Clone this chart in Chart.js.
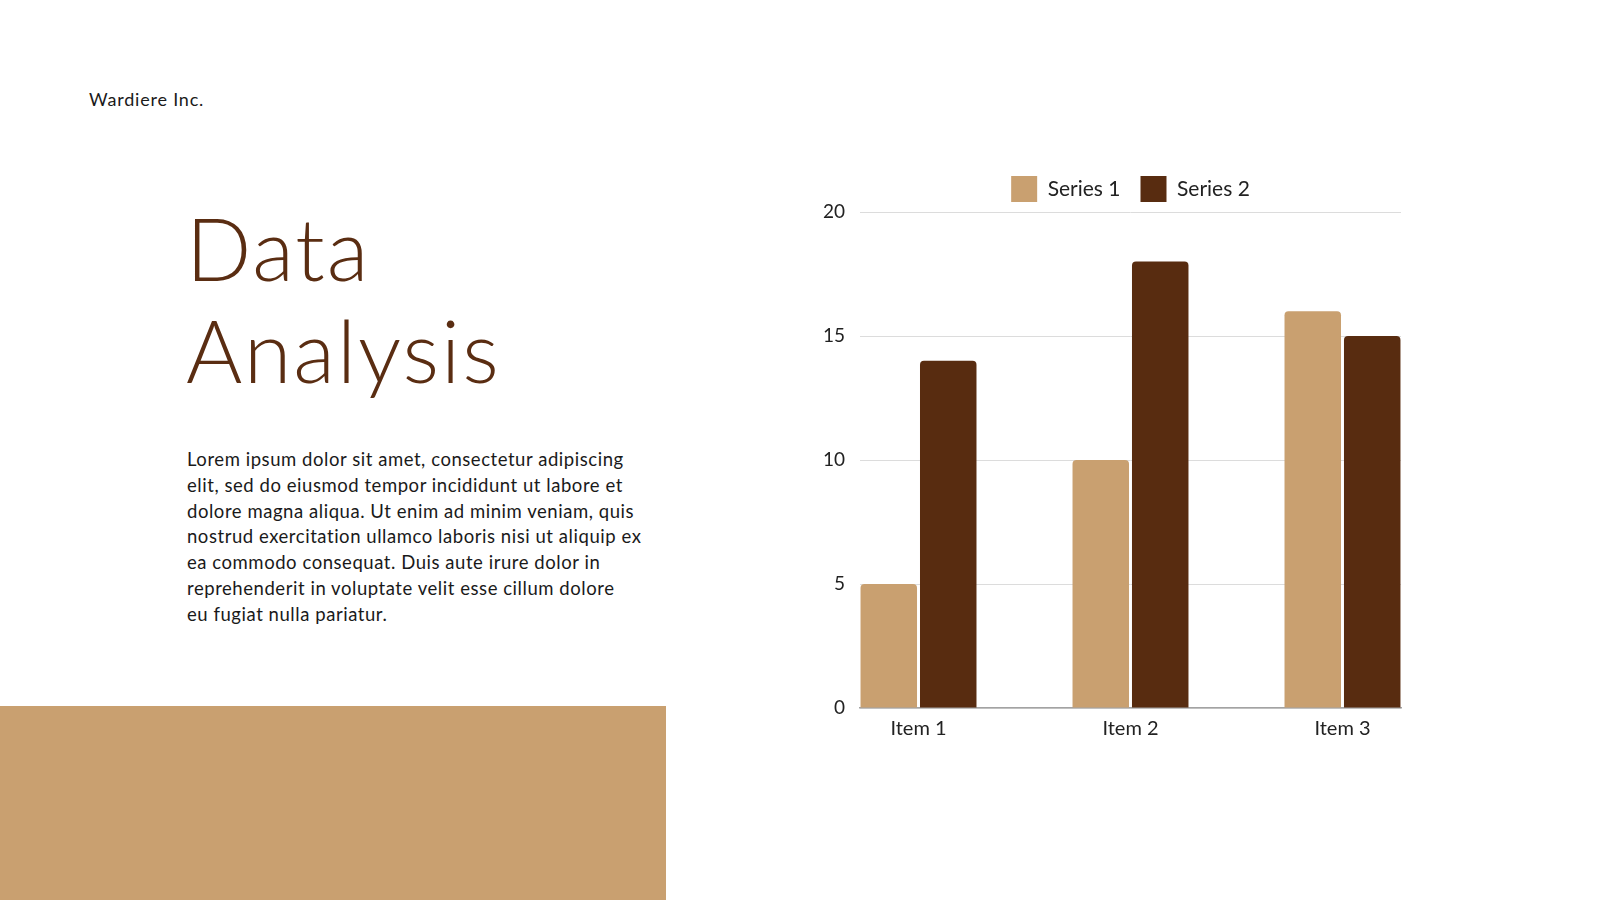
<!DOCTYPE html>
<html>
<head>
<meta charset="utf-8">
<title>Data Analysis</title>
<script src="https://cdn.jsdelivr.net/npm/chart.js@4.4.1/dist/chart.umd.min.js"></script>
<style>
  html, body { margin: 0; padding: 0; }
  body { width: 1600px; height: 900px; background: #ffffff; position: relative; overflow: hidden; font-family: Lato, "Noto Sans", sans-serif; }
  .brand { position: absolute; left: 89px; top: 88px; font-size: 18px; line-height: 22px; color: #1a1a1a; letter-spacing: 0.8px; }
  .title { position: absolute; left: 186px; top: 197px; font-size: 86px; line-height: 102px; font-weight: 300; color: #5a2d12; letter-spacing: 2px; }
  .body-text { position: absolute; left: 187px; top: 447px; font-size: 18.5px; line-height: 25.8px; color: #1a1a1a; white-space: nowrap; letter-spacing: 0.55px; }
  .block { position: absolute; left: 0; top: 706px; width: 666px; height: 194px; background: #c9a070; }
  #chartBox { position: absolute; left: 800px; top: 156px; width: 661px; height: 597px; }
</style>
</head>
<body>
<div class="brand">Wardiere Inc.</div>
<div class="title">Data<br>Analysis</div>
<div class="body-text">Lorem ipsum dolor sit amet, consectetur adipiscing<br>elit, sed do eiusmod tempor incididunt ut labore et<br>dolore magna aliqua. Ut enim ad minim veniam, quis<br>nostrud exercitation ullamco laboris nisi ut aliquip ex<br>ea commodo consequat. Duis aute irure dolor in<br>reprehenderit in voluptate velit esse cillum dolore<br>eu fugiat nulla pariatur.</div>
<div class="block"></div>
<div id="chartBox"><canvas id="itemChart"></canvas></div>

<script>
// chart values
const categories = ["Item 1", "Item 2", "Item 3"];
const series1 = [5, 10, 16];
const series2 = [14, 18, 15];
const yTicks = [0, 5, 10, 15, 20];

const lightTan = "#c9a070";
const darkBrown = "#582c10";

// bars sit on numeric x positions so the groups can hug the ends of the grid
function toPoints(values) {
    return values.map((v, i) => ({x: i, y: v}));
}

new Chart("itemChart", {
    type: "bar",
    data: {
        datasets: [{
            label: "Series 1",
            data: toPoints(series1),
            backgroundColor: lightTan,
            borderRadius: {topLeft: 4, topRight: 4},
            borderSkipped: "bottom",
            categoryPercentage: 0.561,
            barPercentage: 0.95
        }, {
            label: "Series 2",
            data: toPoints(series2),
            backgroundColor: darkBrown,
            borderRadius: {topLeft: 4, topRight: 4},
            borderSkipped: "bottom",
            categoryPercentage: 0.561,
            barPercentage: 0.95
        }]
    },
    options: {
        responsive: true,
        maintainAspectRatio: false,
        animation: false,
        layout: {padding: 0},
        plugins: {
            legend: {
                display: true,
                position: "top",
                labels: {
                    boxWidth: 26,
                    boxHeight: 26,
                    padding: 20,
                    color: "#222222",
                    font: {family: "Lato", size: 21}
                }
            },
            tooltip: {enabled: false}
        },
        scales: {
            x: {
                type: "linear",
                offset: false,
                min: -0.276,
                max: 2.276,
                grid: {display: false, offset: false, drawTicks: false},
                border: {display: true, color: "#a3a3a3", width: 1.5},
                ticks: {
                    stepSize: 1,
                    includeBounds: false,
                    autoSkip: false,
                    maxRotation: 0,
                    padding: 9,
                    color: "#222222",
                    font: {family: "Lato", size: 20},
                    callback: (value) => categories[value] !== undefined ? categories[value] : ""
                },
                afterFit: (scale) => { scale.height = 45; }
            },
            y: {
                min: yTicks[0],
                max: yTicks[yTicks.length - 1],
                grid: {color: "#dcdcdc", lineWidth: 1, drawTicks: false},
                border: {display: false},
                ticks: {
                    stepSize: yTicks[1] - yTicks[0],
                    padding: 15,
                    color: "#222222",
                    font: {family: "Lato", size: 19}
                },
                afterFit: (scale) => { scale.width = 60; }
            },
            yRight: {
                position: "right",
                display: true,
                grid: {display: false},
                border: {display: false},
                ticks: {display: false},
                afterFit: (scale) => { scale.width = 60; }
            }
        }
    }
});
</script>
</body>
</html>
